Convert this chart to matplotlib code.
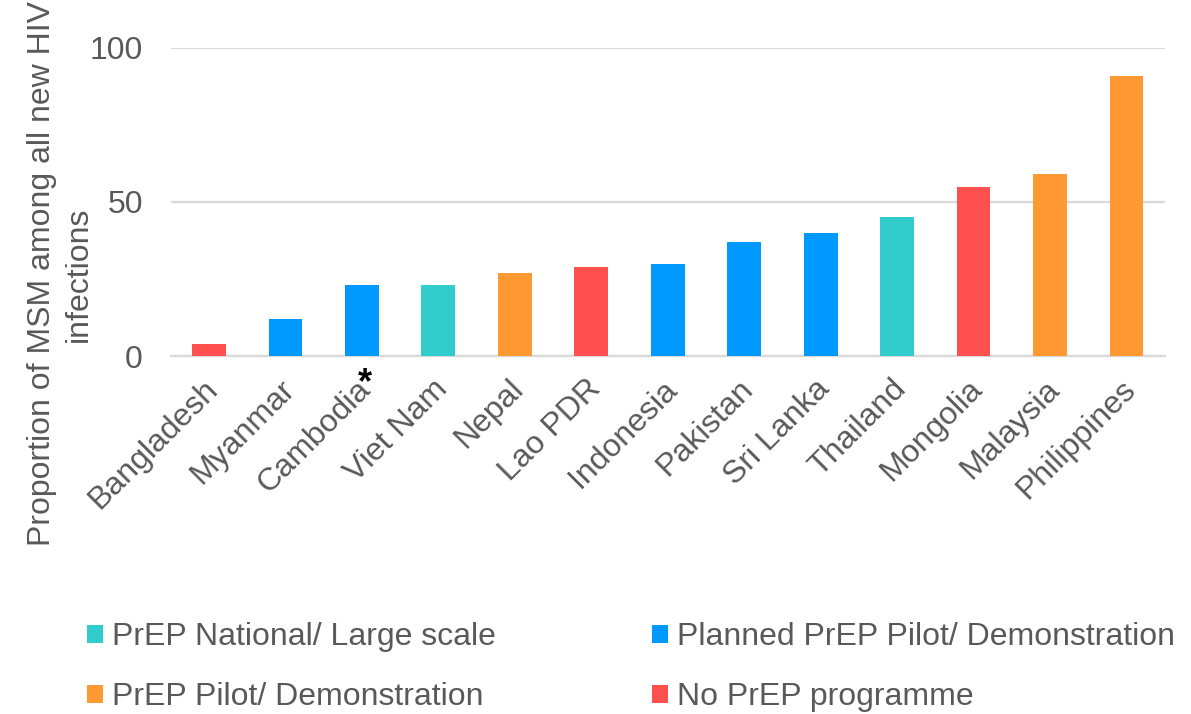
import matplotlib
matplotlib.use("Agg")
import matplotlib.pyplot as plt
import matplotlib.transforms as mtransforms
from matplotlib.patches import Patch

plt.rcParams['font.family'] = ['Liberation Sans', 'DejaVu Sans']

countries = ["Bangladesh", "Myanmar", "Cambodia", "Viet Nam", "Nepal", "Lao PDR",
             "Indonesia", "Pakistan", "Sri Lanka", "Thailand", "Mongolia",
             "Malaysia", "Philippines"]
msm_share = [4, 12, 23, 23, 27, 29, 30, 37, 40, 45, 55, 59, 91]
prep_status = ["none", "planned", "planned", "national", "pilot", "none",
               "planned", "planned", "planned", "national", "none",
               "pilot", "pilot"]

status_labels = {
    "national": "PrEP National/ Large scale",
    "pilot": "PrEP Pilot/ Demonstration",
    "planned": "Planned PrEP Pilot/ Demonstration",
    "none": "No PrEP programme",
}
status_colors = {
    "national": "#33CCCC",
    "planned": "#0099FF",
    "pilot": "#FF9933",
    "none": "#FF5050",
}
legend_order = ["national", "pilot", "planned", "none"]

text_color = "#595959"
grid_color = "#D9D9D9"
fs = 23

fig = plt.figure(figsize=(11.91, 7.14), dpi=100)
ax = fig.add_axes([0.1433, 0.5014, 0.8347, 0.4314])

x = list(range(len(countries)))
ax.bar(x, msm_share, width=0.44, color=[status_colors[s] for s in prep_status],
       zorder=3)

ax.set_xlim(-0.5, len(countries) - 0.5)
ax.set_ylim(0, 100)
ax.set_yticks([0, 50, 100])
ax.yaxis.grid(True, color=grid_color, linewidth=1.6, zorder=0)
ax.set_axisbelow(True)
for side in ["top", "right", "left"]:
    ax.spines[side].set_visible(False)
ax.spines["bottom"].set_color(grid_color)
ax.spines["bottom"].set_linewidth(1.6)
ax.tick_params(axis="both", length=0, labelsize=fs, labelcolor=text_color)
ax.tick_params(axis="y", pad=20)

ax.set_xticks(x)
ax.set_xticklabels(countries, rotation=45, ha="right", va="top",
                   rotation_mode="anchor")
ax.tick_params(axis="x", pad=13)
shift = mtransforms.ScaledTranslation(-6 / 100, 0, fig.dpi_scale_trans)
for lbl in ax.get_xticklabels():
    lbl.set_transform(lbl.get_transform() + shift)

# marker on Cambodia
ax.annotate("*", xy=(2, 0), xytext=(2, -7), textcoords="offset points",
            ha="center", va="top", fontsize=26, fontweight="bold",
            color="black", annotation_clip=False)

fig.text(60 / 1191, 1 - 274 / 714,
         "Proportion of MSM among all new HIV\ninfections",
         rotation=90, ha="center", va="center", multialignment="center",
         fontsize=fs, color=text_color, linespacing=1.3)

handles = [Patch(facecolor=status_colors[k], edgecolor="none") for k in legend_order]
labels = [status_labels[k] for k in legend_order]
fig.legend(handles, labels, loc="upper left", bbox_to_anchor=(87 / 1191, 1 - 622 / 714),
           ncol=2, frameon=False, fontsize=fs, labelcolor=text_color,
           handlelength=0.5, handleheight=0.5, handletextpad=0.28,
           columnspacing=4.9, labelspacing=0.95, borderaxespad=0, borderpad=0)

fig.savefig("out.png", dpi=100)
